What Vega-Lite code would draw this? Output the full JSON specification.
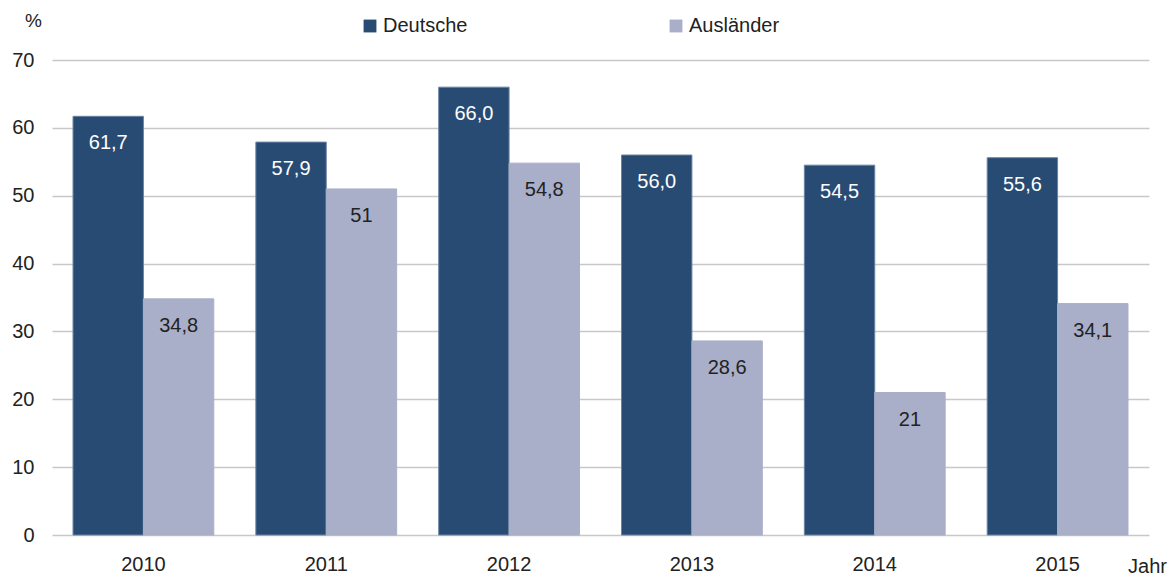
{
  "$schema": "https://vega.github.io/schema/vega-lite/v6.json",
  "width": 1097,
  "height": 475,
  "autosize": {"type": "none"},
  "padding": {"left": 52, "top": 60, "right": 25, "bottom": 41},
  "background": "white",
  "config": {
    "view": {"stroke": null},
    "font": "Liberation Sans",
    "axis": {"labelFont": "Liberation Sans", "titleFont": "Liberation Sans", "labelColor": "#222", "titleColor": "#222", "titleFontWeight": "normal"}
  },
  "data": {
    "values": [
      {"year": "2010", "group": "Deutsche", "value": 61.7, "label": "61,7"},
      {"year": "2010", "group": "Ausländer", "value": 34.8, "label": "34,8"},
      {"year": "2011", "group": "Deutsche", "value": 57.9, "label": "57,9"},
      {"year": "2011", "group": "Ausländer", "value": 51, "label": "51"},
      {"year": "2012", "group": "Deutsche", "value": 66.0, "label": "66,0"},
      {"year": "2012", "group": "Ausländer", "value": 54.8, "label": "54,8"},
      {"year": "2013", "group": "Deutsche", "value": 56.0, "label": "56,0"},
      {"year": "2013", "group": "Ausländer", "value": 28.6, "label": "28,6"},
      {"year": "2014", "group": "Deutsche", "value": 54.5, "label": "54,5"},
      {"year": "2014", "group": "Ausländer", "value": 21, "label": "21"},
      {"year": "2015", "group": "Deutsche", "value": 55.6, "label": "55,6"},
      {"year": "2015", "group": "Ausländer", "value": 34.1, "label": "34,1"}
    ]
  },
  "encoding": {
    "x": {
      "field": "year", "type": "nominal",
      "scale": {"paddingInner": 0.23, "paddingOuter": 0.115},
      "axis": {
        "title": "Jahr", "titleX": 1095, "titleY": 31, "titleAlign": "center", "titleBaseline": "middle",
        "titleFontSize": 20, "labelFontSize": 20, "labelAngle": 0, "labelPadding": 19,
        "ticks": false, "domain": false, "grid": false
      }
    },
    "xOffset": {"field": "group", "type": "nominal", "sort": ["Deutsche", "Ausländer"], "scale": {"domain": ["Deutsche", "Ausländer"]}},
    "y": {
      "field": "value", "type": "quantitative",
      "scale": {"domain": [0, 70], "nice": false},
      "axis": {
        "title": "%", "titleAngle": 0, "titleX": -19, "titleY": -40, "titleAlign": "center", "titleBaseline": "middle",
        "titleFontSize": 19, "labelFontSize": 20, "labelPadding": 18, "values": [0, 10, 20, 30, 40, 50, 60, 70],
        "labelOverlap": false, "ticks": false, "domain": false, "grid": true, "gridColor": "#c8c8c8", "gridWidth": 1.5
      }
    }
  },
  "layer": [
    {
      "mark": {"type": "bar", "strokeWidth": 1},
      "encoding": {
        "color": {
          "field": "group", "type": "nominal",
          "scale": {"domain": ["Deutsche", "Ausländer"], "range": ["#284b73", "#a9afc8"]},
          "legend": {
            "title": null, "orient": "none", "direction": "horizontal", "legendX": 308, "legendY": -44,
            "symbolType": "square", "symbolSize": 165, "symbolStrokeWidth": 0,
            "labelFontSize": 20, "labelColor": "#222", "labelFont": "Liberation Sans", "labelOffset": 3,
            "columnPadding": 198, "padding": 0
          }
        },
        "stroke": {
          "condition": {"test": "datum.group === 'Deutsche'", "value": "#6d83a3"},
          "value": "#a9afc8"
        }
      }
    },
    {
      "mark": {"type": "text", "baseline": "middle", "align": "center", "dy": 27, "fontSize": 20},
      "encoding": {
        "text": {"field": "label"},
        "color": {
          "condition": {"test": "datum.group === 'Deutsche'", "value": "#ffffff"},
          "value": "#222222"
        }
      }
    }
  ]
}
